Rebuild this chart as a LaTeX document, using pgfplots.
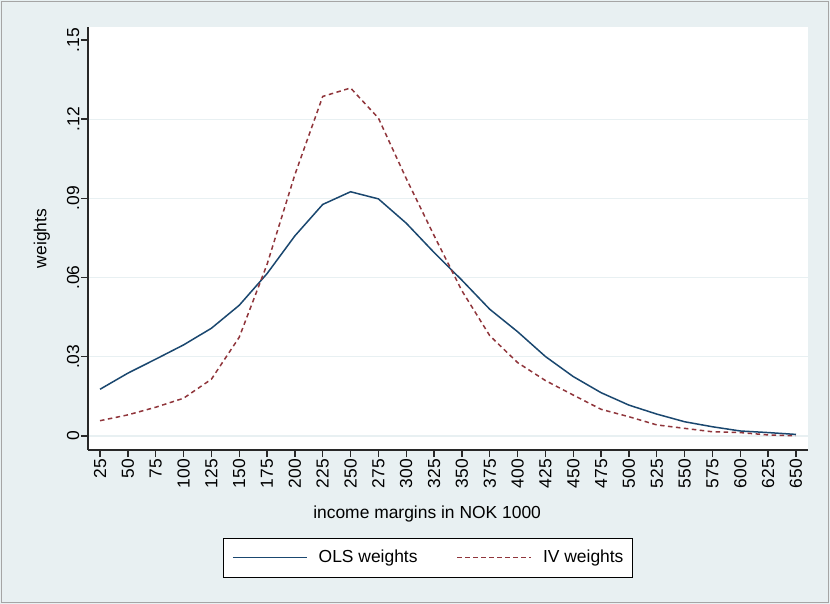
\documentclass[border=0pt]{standalone}
\usepackage{pgfplots}
\pgfplotsset{compat=1.18}
\usepackage{fontspec}
\setmainfont{Liberation Sans}
\definecolor{bgc}{RGB}{232,240,242}
\definecolor{olsc}{RGB}{26,71,111}
\definecolor{ivc}{RGB}{144,53,59}
\definecolor{axc}{RGB}{40,40,40}
\begin{document}
\begin{tikzpicture}
\fill[bgc] (0bp,0bp) rectangle (830bp,604bp);
\draw[color={rgb,255:red,165;green,165;blue,165}, line width=1.5bp] (1.5bp,1.5bp) rectangle (828.5bp,602.5bp);
\begin{axis}[
  at={(88bp,154bp)}, anchor=south west,
  scale only axis, width=720bp, height=423bp,
  xmin=14.2, xmax=660.8, ymin=-0.0053, ymax=0.1549,
  axis background/.style={fill=white},
  axis x line*=bottom, axis y line*=left,
  axis line style={-, line width=1.3bp, color=axc},
  tick style={line width=1.3bp, color=axc},
  tick align=outside, major tick length=7bp,
  xtick={25,50,...,650},
  xticklabels={25,50,75,100,125,150,175,200,225,250,275,300,325,350,375,400,425,450,475,500,525,550,575,600,625,650},
  ytick={0,0.03,0.06,0.09,0.12},
  yticklabels={0,.03,.06,.09,.12},
  extra y ticks={0.15}, extra y tick labels={.15},
  extra y tick style={grid=none},
  ymajorgrids, grid style={line width=1.2bp, color=bgc},
  xticklabel style={rotate=90, anchor=east, font=\fontsize{17.5}{20}\selectfont, inner sep=2bp},
  yticklabel style={rotate=90, anchor=south, font=\fontsize{17.5}{20}\selectfont, inner sep=1.5bp},
  scaled y ticks=false,
  xlabel={income margins in NOK 1000},
  xlabel style={at={(axis description cs:0.471,-0.163)}, anchor=base, font=\fontsize{17.5}{20}\selectfont},
  ylabel={weights},
  ylabel style={at={(axis description cs:-0.0639,0.5)}, rotate=0, anchor=center, font=\fontsize{17.5}{20}\selectfont},
  legend columns=2,
  legend style={at={(axis description cs:0.472,-0.2546)}, anchor=center,
    draw=black, line width=0.8bp, fill=white,
    inner xsep=9bp, inner ysep=11bp,
    font=\fontsize{17.5}{20}\selectfont,
    nodes={inner sep=0pt, text height=13bp, text depth=4bp},
    /tikz/every odd column/.append style={column sep=11bp},
    /tikz/every even column/.append style={column sep=39bp}},
  legend image code/.code={\draw[#1] (0bp,0bp) -- (74bp,0bp);},
]
\addplot[color=olsc, line width=1.5bp] coordinates {
(25,0.0177) (50,0.0238) (75,0.0291) (100,0.0345) (125,0.0408) (150,0.0495)
(175,0.0615) (200,0.0758) (225,0.0877) (250,0.0925) (275,0.0898) (300,0.0806)
(325,0.0695) (350,0.0590) (375,0.0480) (400,0.0395) (425,0.0301) (450,0.0225)
(475,0.0164) (500,0.0117) (525,0.0083) (550,0.0054) (575,0.0035) (600,0.0019)
(625,0.0013) (650,0.0006)};
\addlegendentry{OLS weights}
\addplot[color=ivc, line width=1.5bp, dash pattern=on 4.5bp off 3.5bp] coordinates {
(25,0.0058) (50,0.0080) (75,0.0109) (100,0.0143) (125,0.0215) (150,0.0374)
(175,0.0650) (200,0.0990) (225,0.1286) (250,0.1318) (275,0.1204) (300,0.0975)
(325,0.0759) (350,0.0550) (375,0.0380) (400,0.0278) (425,0.0210) (450,0.0155)
(475,0.0101) (500,0.0073) (525,0.0042) (550,0.0029) (575,0.0016) (600,0.0013)
(625,0.0004) (650,0.0001)};
\addlegendentry{IV weights}
\end{axis}
\pgfresetboundingbox
\useasboundingbox (0bp,0bp) rectangle (830bp,604bp);
\end{tikzpicture}
\end{document}
